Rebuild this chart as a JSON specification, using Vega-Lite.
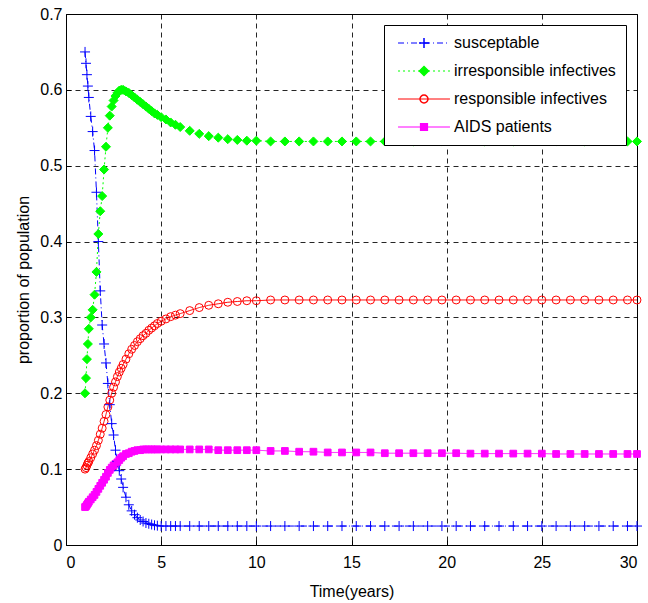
{
  "$schema": "https://vega.github.io/schema/vega-lite/v6.json",
  "width": 571,
  "height": 531,
  "autosize": {"type": "none"},
  "padding": {"left": 66, "top": 14, "right": 11, "bottom": 58},
  "background": "white",
  "config": {
    "font": "Liberation Sans",
    "view": {"stroke": "#000", "strokeWidth": 1},
    "axis": {
      "labelFont": "Liberation Sans",
      "labelFontSize": 16,
      "labelColor": "#000",
      "titleFont": "Liberation Sans",
      "titleFontSize": 16,
      "titleFontWeight": "normal",
      "titleColor": "#000",
      "domain": false,
      "tickColor": "#000",
      "tickSize": -5,
      "grid": true,
      "gridColor": "#000",
      "gridDash": [5, 4],
      "gridWidth": 1,
      "gridOpacity": 0.85
    },
    "legend": {
      "labelFont": "Liberation Sans",
      "labelFontSize": 16,
      "labelColor": "#000",
      "labelLimit": 400
    }
  },
  "data": {
    "values": [
      {"t": 1.0, "S": 0.65, "I": 0.2, "R": 0.1, "A": 0.05},
      {"t": 1.05, "S": 0.635, "I": 0.22, "R": 0.102, "A": 0.051},
      {"t": 1.1, "S": 0.62, "I": 0.245, "R": 0.105, "A": 0.053},
      {"t": 1.15, "S": 0.605, "I": 0.265, "R": 0.108, "A": 0.055},
      {"t": 1.2, "S": 0.59, "I": 0.285, "R": 0.11, "A": 0.057},
      {"t": 1.3, "S": 0.565, "I": 0.3, "R": 0.115, "A": 0.06},
      {"t": 1.4, "S": 0.545, "I": 0.31, "R": 0.12, "A": 0.063},
      {"t": 1.5, "S": 0.52, "I": 0.33, "R": 0.125, "A": 0.066},
      {"t": 1.6, "S": 0.465, "I": 0.36, "R": 0.131, "A": 0.07},
      {"t": 1.7, "S": 0.4, "I": 0.41, "R": 0.138, "A": 0.074},
      {"t": 1.8, "S": 0.335, "I": 0.44, "R": 0.146, "A": 0.078},
      {"t": 1.9, "S": 0.29, "I": 0.46, "R": 0.154, "A": 0.082},
      {"t": 2.0, "S": 0.265, "I": 0.495, "R": 0.163, "A": 0.086},
      {"t": 2.1, "S": 0.24, "I": 0.525, "R": 0.172, "A": 0.09},
      {"t": 2.2, "S": 0.213, "I": 0.55, "R": 0.182, "A": 0.095},
      {"t": 2.3, "S": 0.185, "I": 0.566, "R": 0.191, "A": 0.099},
      {"t": 2.4, "S": 0.16, "I": 0.578, "R": 0.2, "A": 0.102},
      {"t": 2.5, "S": 0.145, "I": 0.586, "R": 0.208, "A": 0.105},
      {"t": 2.6, "S": 0.125, "I": 0.592, "R": 0.215, "A": 0.107},
      {"t": 2.7, "S": 0.11, "I": 0.596, "R": 0.222, "A": 0.109},
      {"t": 2.8, "S": 0.098, "I": 0.599, "R": 0.228, "A": 0.112},
      {"t": 2.9, "S": 0.087, "I": 0.6, "R": 0.233, "A": 0.115},
      {"t": 3.0, "S": 0.076, "I": 0.6, "R": 0.238, "A": 0.117},
      {"t": 3.15, "S": 0.063, "I": 0.598, "R": 0.245, "A": 0.12},
      {"t": 3.3, "S": 0.053, "I": 0.596, "R": 0.252, "A": 0.121},
      {"t": 3.45, "S": 0.045, "I": 0.593, "R": 0.258, "A": 0.123},
      {"t": 3.6, "S": 0.04, "I": 0.59, "R": 0.263, "A": 0.124},
      {"t": 3.75, "S": 0.036, "I": 0.587, "R": 0.268, "A": 0.125},
      {"t": 3.9, "S": 0.033, "I": 0.584, "R": 0.272, "A": 0.125},
      {"t": 4.05, "S": 0.031, "I": 0.581, "R": 0.276, "A": 0.126},
      {"t": 4.2, "S": 0.029, "I": 0.578, "R": 0.279, "A": 0.126},
      {"t": 4.35, "S": 0.028, "I": 0.575, "R": 0.283, "A": 0.126},
      {"t": 4.5, "S": 0.027, "I": 0.572, "R": 0.286, "A": 0.126},
      {"t": 4.65, "S": 0.026, "I": 0.569, "R": 0.289, "A": 0.126},
      {"t": 4.8, "S": 0.0255, "I": 0.567, "R": 0.292, "A": 0.126},
      {"t": 5.0, "S": 0.025, "I": 0.564, "R": 0.295, "A": 0.126},
      {"t": 5.25, "S": 0.025, "I": 0.561, "R": 0.298, "A": 0.126},
      {"t": 5.5, "S": 0.025, "I": 0.557, "R": 0.301, "A": 0.126},
      {"t": 5.75, "S": 0.025, "I": 0.554, "R": 0.303, "A": 0.126},
      {"t": 6.0, "S": 0.025, "I": 0.551, "R": 0.305, "A": 0.126},
      {"t": 6.5, "S": 0.025, "I": 0.546, "R": 0.309, "A": 0.126},
      {"t": 7.0, "S": 0.025, "I": 0.542, "R": 0.313, "A": 0.126},
      {"t": 7.5, "S": 0.025, "I": 0.539, "R": 0.316, "A": 0.126},
      {"t": 8.0, "S": 0.025, "I": 0.537, "R": 0.318, "A": 0.125},
      {"t": 8.5, "S": 0.025, "I": 0.535, "R": 0.32, "A": 0.125},
      {"t": 9.0, "S": 0.025, "I": 0.534, "R": 0.321, "A": 0.125},
      {"t": 9.5, "S": 0.025, "I": 0.533, "R": 0.322, "A": 0.125},
      {"t": 10.0, "S": 0.025, "I": 0.533, "R": 0.322, "A": 0.125},
      {"t": 10.75, "S": 0.025, "I": 0.532, "R": 0.323, "A": 0.124},
      {"t": 11.5, "S": 0.025, "I": 0.532, "R": 0.323, "A": 0.124},
      {"t": 12.25, "S": 0.025, "I": 0.532, "R": 0.323, "A": 0.123},
      {"t": 13.0, "S": 0.025, "I": 0.532, "R": 0.323, "A": 0.123},
      {"t": 13.75, "S": 0.025, "I": 0.532, "R": 0.323, "A": 0.122},
      {"t": 14.5, "S": 0.025, "I": 0.532, "R": 0.323, "A": 0.122},
      {"t": 15.25, "S": 0.025, "I": 0.532, "R": 0.323, "A": 0.122},
      {"t": 16.0, "S": 0.025, "I": 0.532, "R": 0.323, "A": 0.122},
      {"t": 16.75, "S": 0.025, "I": 0.532, "R": 0.323, "A": 0.121},
      {"t": 17.5, "S": 0.025, "I": 0.532, "R": 0.323, "A": 0.121},
      {"t": 18.25, "S": 0.025, "I": 0.532, "R": 0.323, "A": 0.121},
      {"t": 19.0, "S": 0.025, "I": 0.532, "R": 0.323, "A": 0.121},
      {"t": 19.75, "S": 0.025, "I": 0.532, "R": 0.323, "A": 0.121},
      {"t": 20.5, "S": 0.025, "I": 0.532, "R": 0.323, "A": 0.121},
      {"t": 21.25, "S": 0.025, "I": 0.532, "R": 0.323, "A": 0.1205},
      {"t": 22.0, "S": 0.025, "I": 0.532, "R": 0.323, "A": 0.1205},
      {"t": 22.75, "S": 0.025, "I": 0.532, "R": 0.323, "A": 0.1205},
      {"t": 23.5, "S": 0.025, "I": 0.532, "R": 0.323, "A": 0.1205},
      {"t": 24.25, "S": 0.025, "I": 0.532, "R": 0.323, "A": 0.1205},
      {"t": 25.0, "S": 0.025, "I": 0.532, "R": 0.323, "A": 0.1205},
      {"t": 25.75, "S": 0.025, "I": 0.532, "R": 0.323, "A": 0.12},
      {"t": 26.5, "S": 0.025, "I": 0.532, "R": 0.323, "A": 0.12},
      {"t": 27.25, "S": 0.025, "I": 0.532, "R": 0.323, "A": 0.12},
      {"t": 28.0, "S": 0.025, "I": 0.532, "R": 0.323, "A": 0.12},
      {"t": 28.75, "S": 0.025, "I": 0.532, "R": 0.323, "A": 0.12},
      {"t": 29.5, "S": 0.025, "I": 0.532, "R": 0.323, "A": 0.12},
      {"t": 30.0, "S": 0.025, "I": 0.532, "R": 0.323, "A": 0.12}
    ]
  },
  "transform": [
    {"fold": ["S", "I", "R", "A"], "as": ["series", "value"]}
  ],
  "encoding": {
    "x": {
      "field": "t",
      "type": "quantitative",
      "scale": {"domain": [0, 30], "nice": false, "zero": false},
      "axis": {"values": [0, 5, 10, 15, 20, 25, 30], "title": "Time(years)", "labelPadding": 14, "titlePadding": 13}
    },
    "y": {
      "field": "value",
      "type": "quantitative",
      "scale": {"domain": [0, 0.7], "nice": false},
      "axis": {"values": [0, 0.1, 0.2, 0.3, 0.4, 0.5, 0.6, 0.7], "format": "~g", "title": "proportion of population", "labelPadding": 9, "titlePadding": 8}
    }
  },
  "resolve": {
    "scale": {"stroke": "independent"},
    "legend": {"stroke": "independent", "strokeDash": "independent", "shape": "independent", "fill": "independent", "size": "independent"}
  },
  "layer": [
    {
      "mark": {"type": "line", "strokeWidth": 1},
      "encoding": {
        "stroke": {
          "field": "series",
          "type": "nominal",
          "scale": {"domain": ["S", "I", "R", "A"], "range": ["#0000ff", "#00ff00", "#ff0000", "#ff00ff"]},
          "legend": {
            "title": null,
            "orient": "none",
            "legendX": 318,
            "legendY": 11,
            "symbolType": "M-5,0H5",
            "symbolSize": 108,
            "symbolStrokeWidth": 1,
            "symbolOffset": 22,
            "labelOffset": 22,
            "strokeColor": "#000",
            "fillColor": "#fff",
            "padding": 10,
            "rowPadding": 12,
            "labelExpr": "datum.label == 'S' ? 'susceptable' : datum.label == 'I' ? 'irresponsible infectives' : datum.label == 'R' ? 'responsible infectives' : 'AIDS patients'"
          }
        },
        "strokeDash": {
          "field": "series",
          "type": "nominal",
          "scale": {"domain": ["S", "I", "R", "A"], "range": [[6, 3, 1, 3], [2, 3], [1, 0], [1, 0]]},
          "legend": {"title": null, "orient": "none", "legendX": 318, "legendY": 11, "symbolType": "M-5,0H5"}
        }
      }
    },
    {
      "mark": {"type": "point", "strokeWidth": 1, "opacity": 1},
      "encoding": {
        "stroke": {
          "field": "series",
          "type": "nominal",
          "scale": {"domain": ["S", "I", "R", "A"], "range": ["#0000ff", "#00ff00", "#ff0000", "#ff00ff"]},
          "legend": {
            "title": null,
            "orient": "none",
            "legendX": 350,
            "legendY": 21,
            "padding": 0,
            "rowPadding": 12,
            "labelOffset": 5,
            "labelColor": "transparent",
            "labelExpr": "' '"
          }
        },
        "shape": {
          "field": "series",
          "type": "nominal",
          "scale": {"domain": ["S", "I", "R", "A"], "range": ["M-1,0H1M0,-1V1", "diamond", "circle", "square"]},
          "legend": {"title": null, "orient": "none", "legendX": 350, "legendY": 21}
        },
        "fill": {
          "field": "series",
          "type": "nominal",
          "scale": {"domain": ["S", "I", "R", "A"], "range": ["transparent", "#00ff00", "transparent", "#ff00ff"]},
          "legend": {"title": null, "orient": "none", "legendX": 350, "legendY": 21}
        },
        "size": {
          "field": "series",
          "type": "nominal",
          "scale": {"domain": ["S", "I", "R", "A"], "range": [100, 45, 40, 10]},
          "legend": {"title": null, "orient": "none", "legendX": 350, "legendY": 21}
        }
      }
    }
  ]
}
